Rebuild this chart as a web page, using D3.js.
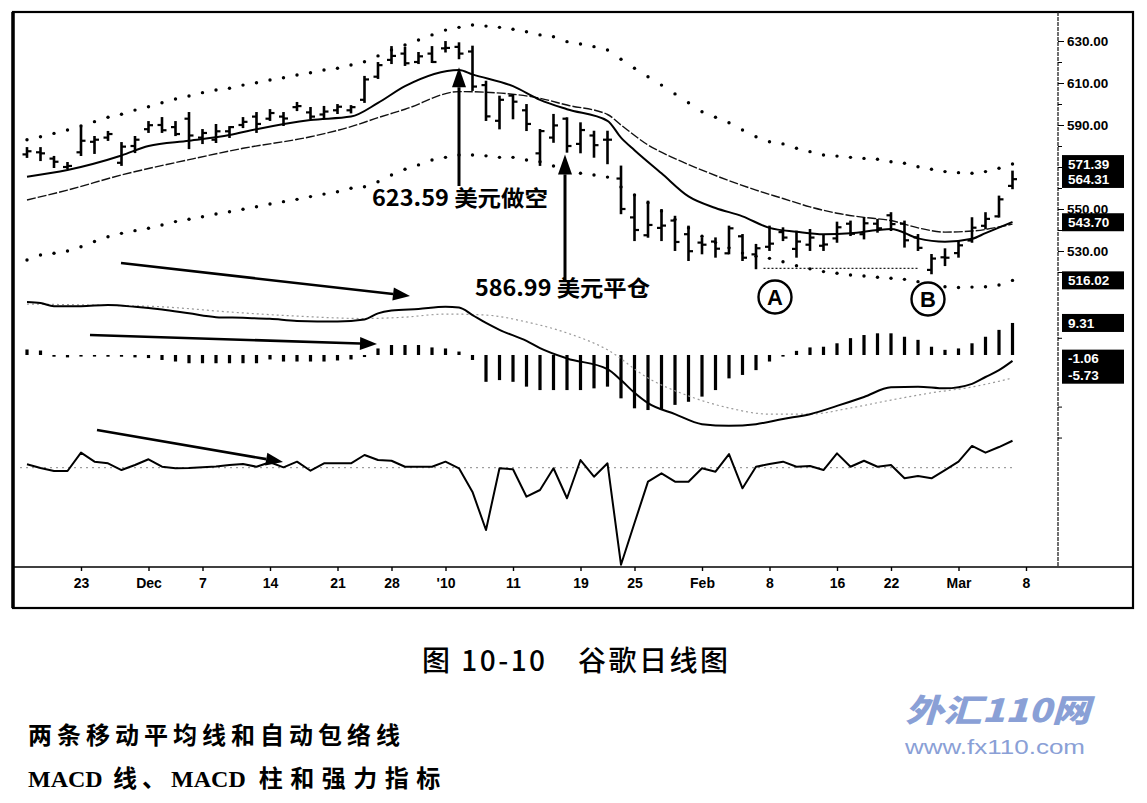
<!DOCTYPE html>
<html>
<head>
<meta charset="utf-8">
<script src="https://cdn.jsdelivr.net/npm/d3@7"></script>
<style>
  html, body { margin: 0; padding: 0; background: #fff; }
  svg { display: block; }
</style>
</head>
<body>
<svg id="chart" width="1147" height="803"></svg>
<script>
// ---------------------------------------------------------------------------
// Données (GOOG, cours journaliers nov. 2009 - mars 2010)
// ---------------------------------------------------------------------------

// séances de bourse (mois-jour)
const dates = [
  "11-17","11-18","11-19","11-20","11-23","11-24","11-25","11-27","11-30",
  "12-01","12-02","12-03","12-04","12-07","12-08","12-09","12-10","12-11","12-14","12-15","12-16",
  "12-17","12-18","12-21","12-22","12-23","12-24","12-28","12-29","12-30","12-31",
  "01-04","01-05","01-06","01-07","01-08","01-11","01-12","01-13","01-14","01-15","01-19","01-20",
  "01-21","01-22","01-25","01-26","01-27","01-28","01-29",
  "02-01","02-02","02-03","02-04","02-05","02-08","02-09","02-10","02-11","02-12","02-16","02-17",
  "02-18","02-19","02-22","02-23","02-24","02-25","02-26",
  "03-01","03-02","03-03","03-04","03-05"
];
const extraSlot = ["03-08"];   // dernière graduation, sans barre

const open = [
  576,577,574,570,577,582,584,572,580,
  588,590,589,593,584,583,587,590,594,593,594,598.5,596,595,597,597,602,613,621,624,620,624,
  626.5,627.2,625,609,592,604,597,576.5,584,593,581,585,583,564.5,546,537.5,541,544.5,538,
  534,534.5,528.9,537,528.4,532,539,531,533,532.5,536,543,538,543,547,543,536.5,521,527,
  529,535,542,546.5,561
];
const high = [
  579,579,574.8,571.9,588.6,584.3,586.7,581.4,584.3,
  591.4,593.3,591.4,595.7,587.6,590,589,593.3,595.7,597.1,595.7,600.5,598.1,598.6,599.5,599,612.9,619.5,627.1,626.7,624.3,627.1,
  629.5,628.9,627.3,610.6,603.5,604.3,599.5,587.6,594.8,593.2,590.8,586.8,586.8,570.2,556.7,553.5,549.5,546.3,541.6,
  536,536,541.6,537.6,532.9,541.6,540.8,539.2,540,537.6,543.5,544,545.6,544.8,548,544,537.6,528.1,530.8,
  534.4,545.6,548,555.9,567.8
];
const low = [
  574.8,573.3,570,569.5,575.7,576.7,582.9,571,577.1,
  586.7,586.7,585.2,579,581.4,581.9,584.3,589,586.7,592.4,590,597.1,593.3,593.8,595.7,596,601,612.4,619.5,618.6,619.5,620,
  625,621.8,606.7,592.4,588.4,593.2,587.6,571,582,577.3,577,574.9,571.8,548,535.2,536.8,535.2,530.5,525.7,
  528.9,527.3,528.9,525.7,521.8,530.5,535.2,527.3,530.5,530.5,534.4,537.6,536,539.2,540,532.1,530.5,519.4,523.3,
  527.3,534.4,540.8,546.4,559.9
];
const close = [
  577.5,576.5,572.5,570.5,582.5,583,585.7,579.7,583,
  589.9,587.5,585.7,585,586.2,587,589,591.5,590.5,595.7,593.1,599,594,596.4,598.7,598.5,611.7,618.5,622.9,619.4,622.7,620,
  626.7,624,608.3,594.1,602,601.1,590.5,587.1,589.8,580,587.6,580.4,583,550,540,542.4,542.1,534.3,529.9,
  533,531.1,540.8,526.8,531.3,533.5,536.4,534.5,536.4,533.1,541.3,538.2,543.2,540.8,542.8,535.1,531.5,526.4,526.8,
  532.7,541.1,545.3,554.6,564.2
];

// moyennes mobiles : [indice de séance, valeur]
const emaFast = [
  [0,565.4],[3,568.6],[7,575.5],[9,580],[12,582.5],[15,585.2],[17,588],[21,592.4],[24,594],
  [26,600.5],[28,608.5],[32,616.2],[33,614.1],[36,608.5],[38,602],[40,597.5],[43,592],[44,584],
  [45,578],[47,567],[49,556],[51,550.5],[53,546.5],[55,541],[57,539.2],[59,538],[61,538.4],
  [63,540],[64,540.5],[66,536],[68,534.4],[70,535.8],[71,538.5],[73,543.8]
];
const emaSlow = [
  [0,554.3],[3,559],[7,566.2],[12,573.5],[16,578.9],[21,584.4],[24,589.2],[26,593.5],[28,597.5],
  [32,605.9],[34,605.6],[38,602.7],[40,599.5],[43,595],[44,590],[46,580.5],[48,574],[50,568.5],
  [52,563.5],[54,559],[56,555],[58,551],[60,548],[62,546],[64,544.5],[66,541],[68,539],[70,539.5],[73,542.8]
];

// enveloppe automatique (un point par séance)
const envUpper = [
  583,584.4,586,587.6,589.5,591.6,593.7,595.1,597.1,598.7,600.6,602.4,603.8,605.4,606.7,607.5,609,610.1,
  611.4,612.5,613.8,614.9,616.2,617,618.6,620.1,622.9,625.7,628.1,630.5,632.9,635.2,636.5,637.6,637.1,
  636.5,635.6,634.4,632.9,632,629.7,628.6,627.3,625.7,621.3,617,613,609,604.8,600.6,596.3,593.7,591.1,
  587.6,584.4,582,581,578.9,577.3,575.7,575.2,574.6,574.1,573.7,572.5,571.8,570.1,568.9,567.8,567.3,
  567,567.8,569.4,571.4
];
const envLower = [
  525.7,528.1,528.9,530,532,534.5,536.8,538.4,539.7,540.8,542.4,544,545.1,546.3,547.6,548.7,549.9,551.1,
  552.4,553.5,554.6,555.9,557.1,558.2,559.9,560.6,563,566.2,568.9,571,573.3,574.6,575.7,575.7,575.3,
  574.6,574.6,573.3,572.5,570.5,569.4,567,566.2,565.2,560.5,556.7,553,549,545,541,537,534,531.5,529,
  527.5,526.5,524.9,523,521.5,520.2,519.4,518.6,518.1,517.5,517,516.5,515.4,514,513,512.6,512.8,513,
  513.8,516
];

// MACD : ligne, ligne de signal ([indice, valeur]) et histogramme (une valeur par séance)
const macdLine = [
  [0,15.4],[1,15.1],[2,14.2],[4,14.2],[6,14.5],[8,14],[10,13.2],[12,12.1],[14,11],[16,10.8],[18,10.5],
  [20,9.9],[23,9.7],[25,10.3],[26,12.1],[27,12.9],[29,13.4],[31,14],[32,13.8],[33,11.6],[34,9.3],
  [35,7.3],[37,4.1],[38,2],[40,-1],[43,-4.1],[44,-7.3],[45,-11],[46,-14],[48,-17.2],[50,-20.1],
  [52,-20.6],[54,-20.1],[56,-18.6],[58,-17.2],[60,-14.8],[62,-12.2],[64,-9.4],[66,-9.2],[68,-9.7],
  [70,-8.4],[71,-6.4],[72,-4.4],[73,-1.7]
];
const macdSignal = [
  [0,14.8],[5,14.5],[10,14],[15,12.5],[20,11.3],[25,10.6],[28,11],[31,11.9],[34,11.6],[37,9.6],
  [40,6.4],[43,1.5],[46,-6.7],[49,-11.9],[52,-15.4],[55,-17.2],[58,-17.2],[61,-15.4],[64,-13.1],
  [67,-11],[70,-9.3],[73,-6.7]
];
const macdHist = [
  1.6,1.3,-0.5,-0.7,-0.3,-0.4,-0.5,-0.5,-0.7,
  -0.9,-1.45,-1.9,-2.4,-2.4,-2.4,-2.4,-2.4,-2.4,-1.3,-1.9,-1.9,-1.9,-1.9,-1.6,-1.3,-0.6,1.9,2.9,2.9,2.9,2.2,
  1.9,1,-1.45,-7.8,-7.3,-7.8,-9.2,-10.2,-10.2,-10.2,-10.2,-9.7,-9.2,-12.6,-15.5,-16,-16,-14.5,-13.6,
  -12.1,-10.2,-6.8,-5.8,-4.4,-1.9,-0.2,1.2,2.2,2.4,3.4,4.9,5.8,6.3,6.3,5.3,4.4,2.4,1.5,
  1.9,3.4,5.3,7.3,9.31
];

// indice de force (une valeur par séance)
const forceIndex = [
  0.35,-0.03,-0.34,-0.34,1.55,0.62,0.45,-0.24,0.28,
  0.87,0.1,-0.06,-0.03,0.04,0.12,0.28,0.38,0.1,0.56,0.04,0.62,-0.31,0.45,0.45,0.45,1.31,0.79,0.72,0.1,0.1,0.1,
  0.62,-0.06,-2.5,-6.42,-0.06,-0.16,-2.99,-2.3,-0.06,-3.15,0.79,-0.93,0.45,-10,-5.7,-1.44,-0.58,-1.44,-1.44,
  -0.06,-0.41,1.41,-2.12,0.1,0.38,0.62,0.1,0.18,-0.24,1.48,0.1,0.72,0.1,0.28,-1.09,-0.86,-1.09,-0.24,
  0.62,2.24,1.55,2.13,2.78
];

// graduations
const dateTicks = ["11-23","12-01","12-07","12-14","12-21","12-28","01-04","01-11","01-19","01-25",
                   "02-01","02-08","02-16","02-22","03-01","03-08"];
const dateTickLabels = ["23","Dec","7","14","21","28","'10","11","19","25","Feb","8","16","22","Mar","8"];
const priceTicks = [630, 610, 590, 550, 530];
const priceMinorTicks = [620, 600, 580, 570, 560, 540, 520];

// dernières valeurs affichées en négatif sur l'axe
const priceTags = [[571.39, 564.31], [543.70], [516.02]];
const macdTags = [[9.31], [-1.06, -5.73]];

// annotations
const shortPrice = 623.59, coverPrice = 586.99;

// ---------------------------------------------------------------------------
// Mise en page
// ---------------------------------------------------------------------------
const svg = d3.select("#chart");
const frame = { left: 13, top: 12, right: 1133, bottom: 608 };
const axisX = 1058;
const dateAxisY = 567;

const x = d3.scalePoint().domain(dates.concat(extraSlot)).range([27, 1026]);
const yPrice = d3.scaleLinear().domain([510, 630]).range([293, 41]);
const yMacd = d3.scaleLinear().domain([-25, 17]).range([441, 296.5]);
const yForce = d3.scaleLinear().domain([-10, 3]).range([564.7, 438.6]);
const xi = i => x(dates[i]);

const sansNum = "'Liberation Sans', Arial, sans-serif";
const narrow = "'Liberation Sans Narrow', 'Liberation Sans', Arial, sans-serif";
const serif = "'Liberation Serif', 'DejaVu Serif', serif";
const cjk = "'Noto Sans CJK SC', 'Noto Sans', sans-serif";

// cadre
svg.append("rect")
  .attr("x", frame.left).attr("y", frame.top)
  .attr("width", frame.right - frame.left).attr("height", frame.bottom - frame.top)
  .attr("fill", "none").attr("stroke", "#000").attr("stroke-width", 2.2);
svg.append("line")
  .attr("x1", frame.left).attr("x2", frame.left)
  .attr("y1", frame.top).attr("y2", frame.bottom)
  .attr("stroke", "#000").attr("stroke-width", 3.5);

// ---------------------------------------------------------------------------
// Panneau des cours
// ---------------------------------------------------------------------------
const dots = svg.append("g").attr("fill", "#000");
[envUpper, envLower].forEach(env => {
  dots.append("g").selectAll("circle").data(env).join("circle")
    .attr("cx", (d, i) => xi(i)).attr("cy", d => yPrice(d)).attr("r", 1.7);
});

const sampleLine = yScale => d3.line()
  .x(p => xi(p[0])).y(p => yScale(p[1]))
  .curve(d3.curveMonotoneX);

svg.append("path").datum(emaSlow)
  .attr("d", sampleLine(yPrice))
  .attr("fill", "none").attr("stroke", "#111").attr("stroke-width", 1.4)
  .attr("stroke-dasharray", "9,2");
svg.append("path").datum(emaFast)
  .attr("d", sampleLine(yPrice))
  .attr("fill", "none").attr("stroke", "#000").attr("stroke-width", 2);

// support A-B
svg.append("line")
  .attr("x1", xi(55) - 6).attr("x2", xi(66))
  .attr("y1", yPrice(521.7)).attr("y2", yPrice(521.7))
  .attr("stroke", "#222").attr("stroke-width", 1.2).attr("stroke-dasharray", "2,2");

const bars = dates.map((d, i) => ({ d, o: open[i], h: high[i], l: low[i], c: close[i] }));
const gBars = svg.append("g").attr("stroke", "#000");
gBars.selectAll("line.hl").data(bars).join("line").attr("class", "hl")
  .attr("x1", d => x(d.d)).attr("x2", d => x(d.d))
  .attr("y1", d => yPrice(d.h) - 1).attr("y2", d => yPrice(d.l) + 1)
  .attr("stroke-width", 2.6);
gBars.selectAll("line.op").data(bars).join("line").attr("class", "op")
  .attr("x1", d => x(d.d) - 4.5).attr("x2", d => x(d.d))
  .attr("y1", d => yPrice(d.o)).attr("y2", d => yPrice(d.o))
  .attr("stroke-width", 2.2);
gBars.selectAll("line.cl").data(bars).join("line").attr("class", "cl")
  .attr("x1", d => x(d.d)).attr("x2", d => x(d.d) + 4.5)
  .attr("y1", d => yPrice(d.c)).attr("y2", d => yPrice(d.c))
  .attr("stroke-width", 2.2);

// ---------------------------------------------------------------------------
// Panneau MACD
// ---------------------------------------------------------------------------
svg.append("g").selectAll("rect").data(macdHist).join("rect")
  .attr("x", (d, i) => xi(i) - 1.6)
  .attr("width", 3.2)
  .attr("y", d => Math.min(yMacd(d), yMacd(0)))
  .attr("height", d => Math.max(1.6, Math.abs(yMacd(d) - yMacd(0))))
  .attr("fill", "#000");

svg.append("path").datum(macdSignal)
  .attr("d", sampleLine(yMacd))
  .attr("fill", "none").attr("stroke", "#9a9a9a").attr("stroke-width", 1.2)
  .attr("stroke-dasharray", "2,3");
svg.append("path").datum(macdLine)
  .attr("d", sampleLine(yMacd))
  .attr("fill", "none").attr("stroke", "#000").attr("stroke-width", 2);

// ---------------------------------------------------------------------------
// Panneau indice de force
// ---------------------------------------------------------------------------
svg.append("line")
  .attr("x1", 20).attr("x2", xi(dates.length - 1))
  .attr("y1", yForce(0)).attr("y2", yForce(0))
  .attr("stroke", "#888").attr("stroke-width", 1).attr("stroke-dasharray", "2,4");
svg.append("path").datum(forceIndex)
  .attr("d", d3.line().x((d, i) => xi(i)).y(d => yForce(d)))
  .attr("fill", "none").attr("stroke", "#000").attr("stroke-width", 2)
  .attr("stroke-linejoin", "round");

// ---------------------------------------------------------------------------
// Axes
// ---------------------------------------------------------------------------
svg.append("line")
  .attr("x1", frame.left).attr("x2", frame.right)
  .attr("y1", dateAxisY).attr("y2", dateAxisY)
  .attr("stroke", "#000").attr("stroke-width", 1.6);
const gx = svg.append("g").attr("transform", `translate(0,${dateAxisY})`)
  .call(d3.axisBottom(x).tickValues(dateTicks)
    .tickFormat((d, i) => dateTickLabels[i]).tickSize(4).tickPadding(7));
gx.select(".domain").remove();
gx.selectAll("line").attr("stroke", "#000").attr("stroke-width", 1.4);
gx.selectAll("text").attr("font-family", narrow).attr("font-weight", "bold")
  .attr("font-size", 14).attr("fill", "#000");

svg.append("line")
  .attr("x1", axisX).attr("x2", axisX).attr("y1", frame.top).attr("y2", dateAxisY)
  .attr("stroke", "#222").attr("stroke-width", 1.3).attr("stroke-dasharray", "4,1");
const gyMinor = svg.append("g").attr("transform", `translate(${axisX},0)`)
  .call(d3.axisRight(yPrice).tickValues(priceMinorTicks).tickSize(4).tickFormat(""));
gyMinor.select(".domain").remove();
const gy = svg.append("g").attr("transform", `translate(${axisX},0)`)
  .call(d3.axisRight(yPrice).tickValues(priceTicks).tickSize(6).tickPadding(3).tickFormat(d3.format(".2f")));
gy.select(".domain").remove();
gy.selectAll("text").attr("font-family", sansNum).attr("font-weight", "bold")
  .attr("font-size", 13.5).attr("fill", "#000");
svg.selectAll(".tick line").attr("stroke", "#000");
const gyMacd = svg.append("g").attr("transform", `translate(${axisX},0)`)
  .call(d3.axisRight(yMacd).tickValues([5, -15, -24]).tickSize(4).tickFormat(""));
gyMacd.select(".domain").remove();
gyMacd.selectAll("line").attr("stroke", "#000");

// étiquettes en négatif
function tag(values, scale) {
  const ys = values.map(v => scale(v));
  const top = d3.min(ys) - 9, bottom = d3.max(ys) + 9;
  const g = svg.append("g");
  g.append("rect").attr("x", axisX + 4).attr("y", top)
    .attr("width", 62).attr("height", bottom - top).attr("fill", "#000");
  g.selectAll("text").data(values).join("text")
    .attr("x", axisX + 10).attr("y", v => scale(v)).attr("dy", "0.36em")
    .attr("font-family", sansNum).attr("font-size", 13.5).attr("font-weight", "bold")
    .attr("fill", "#fff").text(v => v.toFixed(2));
}
priceTags.forEach(t => tag(t, yPrice));
macdTags.forEach(t => tag(t, yMacd));

// ---------------------------------------------------------------------------
// Annotations
// ---------------------------------------------------------------------------
function arrow(x1, y1, x2, y2, head = 17, half = 6.5, w = 2.6) {
  const a = Math.atan2(y2 - y1, x2 - x1);
  const bx = x2 - head * Math.cos(a), by = y2 - head * Math.sin(a);
  svg.append("line").attr("x1", x1).attr("y1", y1).attr("x2", bx).attr("y2", by)
    .attr("stroke", "#000").attr("stroke-width", w);
  const px = -Math.sin(a) * half, py = Math.cos(a) * half;
  svg.append("path")
    .attr("d", `M${x2},${y2}L${bx + px},${by + py}L${bx - px},${by - py}Z`)
    .attr("fill", "#000");
}

arrow(xi(32), 186, xi(32), yPrice(617.5), 20, 7, 3);
arrow(xi(40) - 2, 280, xi(40) - 2, yPrice(576), 20, 7, 3);

arrow(121, 263, 410, 296);
arrow(90, 335, 377, 344);
arrow(97, 430, 283, 462);

svg.append("text").attr("x", 372).attr("y", 206)
  .attr("font-family", cjk).attr("font-weight", "bold").attr("font-size", 22)
  .attr("textLength", 176).attr("lengthAdjust", "spacingAndGlyphs")
  .text(`${shortPrice} 美元做空`);
svg.append("text").attr("x", 475).attr("y", 296)
  .attr("font-family", cjk).attr("font-weight", "bold").attr("font-size", 22)
  .attr("textLength", 175).attr("lengthAdjust", "spacingAndGlyphs")
  .text(`${coverPrice} 美元平仓`);

[["A", 775, 297], ["B", 928, 299]].forEach(([t, cx, cy]) => {
  svg.append("circle").attr("cx", cx).attr("cy", cy).attr("r", 16.5)
    .attr("fill", "#fff").attr("stroke", "#000").attr("stroke-width", 2.4);
  svg.append("text").attr("x", cx).attr("y", cy).attr("dy", "0.36em")
    .attr("text-anchor", "middle").attr("font-family", sansNum)
    .attr("font-weight", "bold").attr("font-size", 22).text(t);
});

// ---------------------------------------------------------------------------
// Légendes sous le graphique
// ---------------------------------------------------------------------------
svg.append("text").attr("x", 422).attr("y", 671)
  .attr("font-family", cjk).attr("font-weight", 500).attr("font-size", 28)
  .attr("textLength", 306).attr("lengthAdjust", "spacing")
  .text("图 10-10　谷歌日线图");

svg.append("text").attr("x", 28).attr("y", 744)
  .attr("font-family", cjk).attr("font-weight", "bold").attr("font-size", 24)
  .attr("textLength", 372).attr("lengthAdjust", "spacing")
  .text("两条移动平均线和自动包络线");

// ligne mixte : latin en empattement, chinois espacé
const line2 = svg.append("text").attr("x", 28).attr("y", 787)
  .attr("font-weight", "bold").attr("font-size", 24);
[["MACD", serif, 0], [" 线、", cjk, 5], ["MACD", serif, 0], [" 柱和强力指标", cjk, 7.5]]
  .forEach(([t, f, ls]) => {
    line2.append("tspan").attr("font-family", f).attr("letter-spacing", ls).text(t);
  });

svg.append("text").attr("x", 905).attr("y", 722)
  .attr("font-family", cjk).attr("font-weight", "900").attr("font-style", "italic")
  .attr("font-size", 32).attr("fill", "#8aa0d6")
  .attr("textLength", 185).attr("lengthAdjust", "spacingAndGlyphs")
  .text("外汇110网");
svg.append("text").attr("x", 905).attr("y", 754)
  .attr("font-family", sansNum).attr("font-size", 21).attr("fill", "#8aa0d6")
  .attr("textLength", 180).attr("lengthAdjust", "spacingAndGlyphs")
  .text("www.fx110.com");
</script>
</body>
</html>
